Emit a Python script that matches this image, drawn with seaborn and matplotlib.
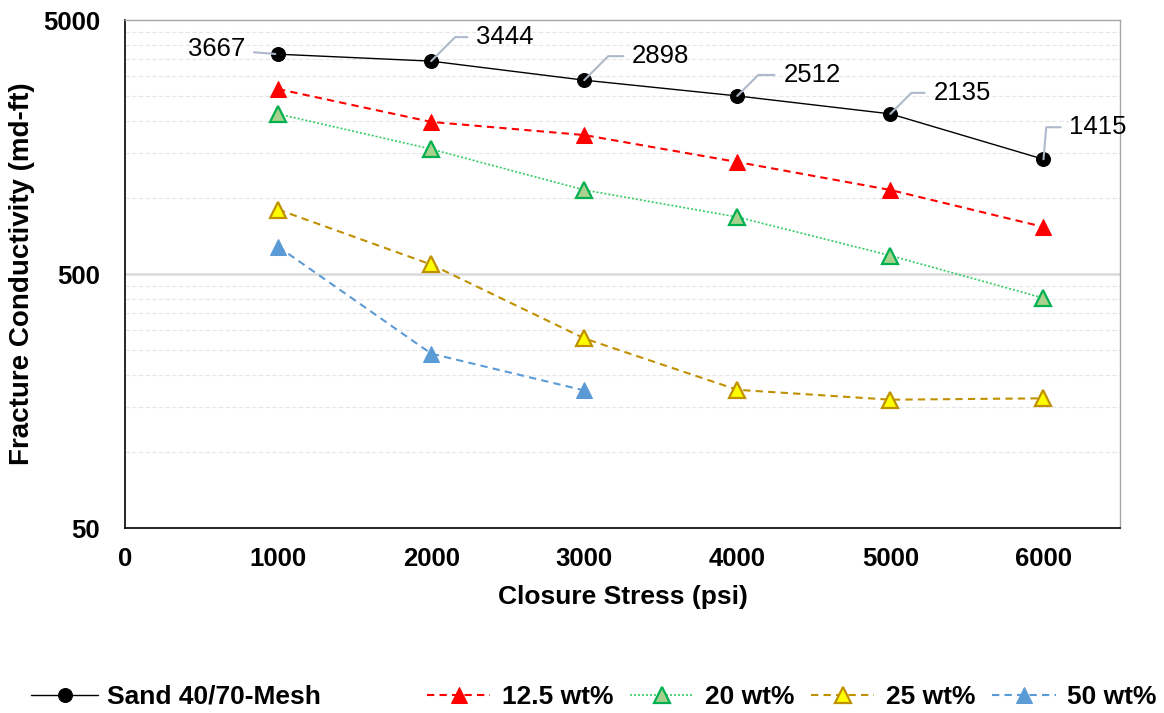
import matplotlib
matplotlib.use("Agg")
import matplotlib.pyplot as plt
import seaborn as sns
import pandas as pd
from matplotlib.ticker import FixedLocator, NullFormatter, FixedFormatter

# ---- data ----
stress = [1000, 2000, 3000, 4000, 5000, 6000]
sand = [3667, 3444, 2898, 2512, 2135, 1415]
wt12_5 = [2674, 1985, 1762, 1380, 1071, 766]
wt20 = [2133, 1552, 1071, 838, 591, 402]
wt25 = [897, 545, 279, 175, 160, 162]
stress50 = [1000, 2000, 3000]
wt50 = [641, 243, 174]
series_names = ["Sand 40/70-Mesh", "12.5 wt%", "20 wt%", "25 wt%", "50 wt%"]
x_ticks = [0, 1000, 2000, 3000, 4000, 5000, 6000]
y_major = [50, 500, 5000]
y_minor = [100, 150, 200, 250, 300, 350, 400, 450,
           1000, 1500, 2000, 2500, 3000, 3500, 4000, 4500]

sns.set_theme(style="white")
plt.rcParams["font.family"] = ["Liberation Sans", "DejaVu Sans"]
plt.rcParams["text.color"] = "black"
plt.rcParams["axes.labelcolor"] = "black"
plt.rcParams["xtick.color"] = "black"
plt.rcParams["ytick.color"] = "black"

fig = plt.figure(figsize=(11.64, 7.13), dpi=100)
ax = fig.add_axes([125/1164, 1-528/713, (1120-125)/1164, (528-20)/713])

styles = [
    dict(color="black", linestyle="-", lw=1.0, marker="o", markersize=10,
         markerfacecolor="black", markeredgecolor="black"),
    dict(color="#FF0000", linestyle=(0, (3.5, 2.5)), lw=1.5, marker="^", markersize=12,
         markerfacecolor="#FF0000", markeredgecolor="#FF0000"),
    dict(color="#33CC66", linestyle=(0, (1.2, 1.2)), lw=1.2, marker="^", markersize=11,
         markerfacecolor="#A9D18E", markeredgecolor="#00B050", markeredgewidth=1.6),
    dict(color="#C09000", linestyle=(0, (3.5, 2.5)), lw=1.5, marker="^", markersize=11,
         markerfacecolor="#FFFF00", markeredgecolor="#BF9000", markeredgewidth=1.6),
    dict(color="#5B9BD5", linestyle=(0, (3.5, 2.5)), lw=1.5, marker="^", markersize=12,
         markerfacecolor="#5B9BD5", markeredgecolor="#5B9BD5"),
]
datasets = [(stress, sand), (stress, wt12_5), (stress, wt20), (stress, wt25), (stress50, wt50)]

handles = []
for name, (xs, ys), st in zip(series_names, datasets, styles):
    df = pd.DataFrame({"x": xs, "y": ys})
    sns.lineplot(data=df, x="x", y="y", ax=ax, legend=False, zorder=3, **st)
    handles.append(ax.lines[-1])

ax.set_yscale("log")
ax.set_ylim(50, 5000)
ax.set_xlim(0, 6500)
ax.yaxis.set_major_locator(FixedLocator(y_major))
ax.yaxis.set_major_formatter(FixedFormatter([str(v) for v in y_major]))
ax.yaxis.set_minor_locator(FixedLocator(y_minor))
ax.yaxis.set_minor_formatter(NullFormatter())
ax.set_xticks(x_ticks)
ax.set_xticklabels([str(v) for v in x_ticks])

ax.tick_params(axis="both", which="both", length=0)
ax.tick_params(axis="y", which="major", pad=18, labelsize=18.5)
ax.tick_params(axis="x", which="major", pad=14, labelsize=18.5)
for lab in ax.get_xticklabels() + ax.get_yticklabels():
    lab.set_fontweight("bold")
    lab.set_color("black")

ax.grid(False)
ax.axhline(500, color="#D9D9D9", lw=1.8, zorder=1)
for v in y_minor:
    ax.axhline(v, color="#E6E6E6", lw=0.8, linestyle=(0, (4, 2)), zorder=1)

for side in ["top", "right"]:
    ax.spines[side].set_color("#A6A6A6")
    ax.spines[side].set_linewidth(1.0)
for side in ["left", "bottom"]:
    ax.spines[side].set_color("black")
    ax.spines[side].set_linewidth(1.2)

ax.set_xlabel("Closure Stress (psi)", fontsize=19, fontweight="bold", labelpad=10,
              color="black")
ax.set_ylabel("Fracture Conductivity (md-ft)", fontsize=20, fontweight="bold", labelpad=6,
              color="black")

# data labels for sand with leader lines
offsets = [(-33, 5), (45, 24), (48, 24), (46, 21), (43, 21), (26, 32)]
angles = [0, 45, 45, 45, 45, 85]
lead = "#ADB9CA"
for i, (xv, yv) in enumerate(zip(stress, sand)):
    dx, dy = offsets[i]
    ha = "right" if dx < 0 else "left"
    if i == 0:
        ax.annotate(str(yv), xy=(xv, yv), xytext=(dx, dy), textcoords="offset pixels",
                    ha=ha, va="center", fontsize=18.5, color="black", zorder=5,
                    arrowprops=dict(arrowstyle="-", color=lead, lw=1.5,
                                    shrinkA=4, shrinkB=2))
    else:
        ax.annotate(str(yv), xy=(xv, yv), xytext=(dx, dy), textcoords="offset pixels",
                    ha=ha, va="center", fontsize=18.5, color="black", zorder=5,
                    arrowprops=dict(arrowstyle="-", color=lead, lw=1.5,
                                    connectionstyle=f"angle,angleA=0,angleB={angles[i]},rad=0",
                                    shrinkA=4, shrinkB=0))

leg_font = dict(size=19, weight="bold")
fig.legend([handles[0]], [series_names[0]], loc="center left",
           bbox_to_anchor=(31/1164, 1-697/713), frameon=False, prop=leg_font,
           borderpad=0, borderaxespad=0, handlelength=2.55, handletextpad=0.33,
           labelcolor="black")
fig.legend(handles[1:], series_names[1:], loc="center left",
           bbox_to_anchor=(427/1164, 1-697/713), frameon=False, prop=leg_font, ncol=4,
           borderpad=0, borderaxespad=0, handlelength=2.4, handletextpad=0.45,
           columnspacing=0.62, labelcolor="black")

fig.savefig("out.png", dpi=100)
